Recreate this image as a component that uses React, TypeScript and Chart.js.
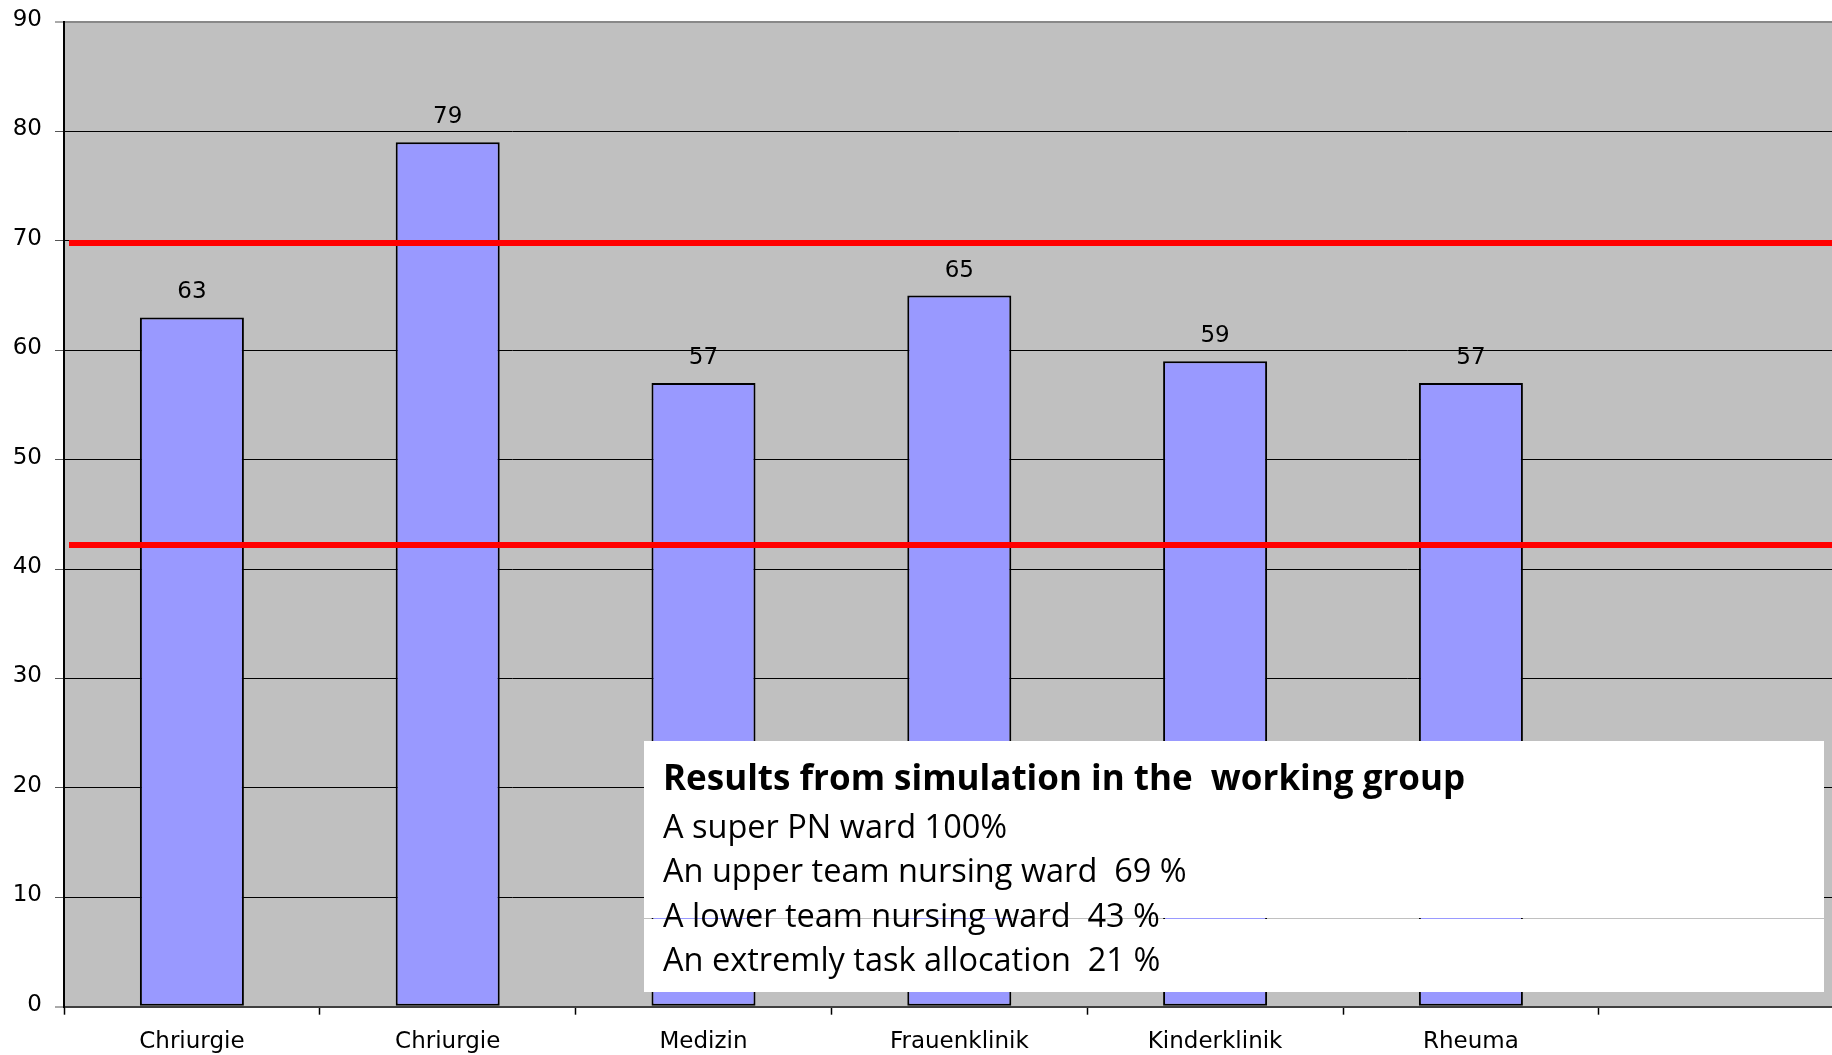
import React, { useEffect, useRef } from "react";
import { Chart, registerables } from "chart.js";

Chart.register(...registerables);

const categories = ["Chriurgie", "Chriurgie", "Medizin", "Frauenklinik", "Kinderklinik", "Rheuma", ""];
const values: (number | null)[] = [63, 79, 57, 65, 59, 57, null];
const referenceLines = [69.8, 42.2];
const yMin = 0;
const yMax = 90;
const yStep = 10;
const boxTitle = "Results from simulation in the  working group";
const boxLines = [
  "A super PN ward 100%",
  "An upper team nursing ward  69 %",
  "A lower team nursing ward  43 %",
  "An extremly task allocation  21 %",
];

const AXIS_FONT = "'DejaVu Sans', 'Liberation Sans', Arial, sans-serif";
const BOX_FONT = "'Open Sans', 'Noto Sans', sans-serif";

const CANVAS_W = 1880;
const CANVAS_H = 1055;

const backgroundPlugin = {
  id: "bgPlugin",
  beforeDraw(chart: any) {
    const { ctx, chartArea } = chart;
    ctx.save();
    ctx.fillStyle = "#ffffff";
    ctx.fillRect(0, 0, chart.width, chart.height);
    ctx.fillStyle = "#c0c0c0";
    ctx.fillRect(chartArea.left, chartArea.top, chartArea.right - chartArea.left, chartArea.bottom - chartArea.top);
    ctx.restore();
  },
};

const refLinePlugin = {
  id: "refLines",
  afterDatasetsDraw(chart: any) {
    const { ctx, chartArea, scales } = chart;
    ctx.save();
    ctx.strokeStyle = "#ff0000";
    ctx.lineWidth = 6;
    referenceLines.forEach((v) => {
      const y = scales.y.getPixelForValue(v);
      ctx.beginPath();
      ctx.moveTo(chartArea.left + 5, y);
      ctx.lineTo(chartArea.right, y);
      ctx.stroke();
    });
    ctx.restore();
  },
};

const dataLabelPlugin = {
  id: "dataLabels",
  afterDatasetsDraw(chart: any) {
    const { ctx } = chart;
    const meta = chart.getDatasetMeta(0);
    ctx.save();
    ctx.fillStyle = "#000";
    ctx.font = `23px ${AXIS_FONT}`;
    ctx.textAlign = "center";
    ctx.textBaseline = "alphabetic";
    meta.data.forEach((el: any, i: number) => {
      const v = values[i];
      if (v == null) return;
      ctx.fillText(String(v), el.x, el.y - 19);
    });
    ctx.restore();
  },
};

const boxPlugin = {
  id: "textBox",
  afterDraw(chart: any) {
    const { ctx } = chart;
    const left = 644;
    const right = 1824;
    const top = 741;
    const gap = 918;
    const bottom = 992;
    ctx.save();
    ctx.fillStyle = "#ffffff";
    ctx.fillRect(left, top, right - left, gap - top);
    ctx.fillRect(left, gap + 1, right - left, bottom - gap - 1);
    ctx.fillStyle = "#000";
    ctx.textAlign = "left";
    ctx.textBaseline = "alphabetic";
    ctx.font = `bold 35px ${BOX_FONT}`;
    ctx.fillText(boxTitle, 663, 790);
    ctx.font = `32.5px ${BOX_FONT}`;
    const baselines = [838, 882, 927, 971];
    boxLines.forEach((t, i) => ctx.fillText(t, 663, baselines[i]));
    ctx.restore();
  },
};

export default function App() {
  const ref = useRef<HTMLCanvasElement | null>(null);

  useEffect(() => {
    if (!ref.current) return;
    const chart = new Chart(ref.current, {
      type: "bar",
      data: {
        labels: categories,
        datasets: [
          {
            data: values as any,
            backgroundColor: "#9999ff",
            borderColor: "#000000",
            borderWidth: 2,
            borderSkipped: false,
            barPercentage: 0.4066,
            categoryPercentage: 1,
          },
        ],
      },
      options: {
        animation: false,
        responsive: false,
        devicePixelRatio: 1,
        layout: { padding: { left: 0, top: 22, right: CANVAS_W - 1854.6, bottom: 0 } },
        plugins: { legend: { display: false }, tooltip: { enabled: false } },
        scales: {
          x: {
            afterFit: (s: any) => {
              s.height = 48.3;
              s.paddingLeft = 0;
              s.paddingRight = 0;
            },
            grid: {
              offset: true,
              drawOnChartArea: false,
              tickLength: 8,
              tickColor: "#000",
              tickWidth: 1.5,
            },
            border: { display: true, color: "#404040", width: 2 },
            ticks: {
              font: { family: AXIS_FONT, size: 23 },
              color: "#000",
              padding: 14,
              maxRotation: 0,
              autoSkip: false,
            },
          },
          y: {
            min: yMin,
            max: yMax,
            afterFit: (s: any) => {
              s.width = 64;
              s.paddingTop = 0;
              s.paddingBottom = 0;
            },
            grid: {
              color: (c: any) => (c.tick && c.tick.value === yMax ? "#888888" : c.tick && c.tick.value === yMin ? "#404040" : "#000000"),
              lineWidth: (c: any) => (c.tick && (c.tick.value === yMax || c.tick.value === yMin) ? 2 : 1),
              tickLength: 9,
              tickColor: "#555",
              tickWidth: 1,
            },
            border: { display: true, color: "#000", width: 2 },
            ticks: {
              stepSize: yStep,
              font: { family: AXIS_FONT, size: 23 },
              color: "#000",
              padding: 13,
              labelOffset: -2,
            },
          },
        },
      },
      plugins: [backgroundPlugin, refLinePlugin, dataLabelPlugin, boxPlugin],
    });
    return () => chart.destroy();
  }, []);

  return (
    <div style={{ position: "fixed", left: 0, top: 0, width: 1832, height: 1055, overflow: "hidden", background: "#fff" }}>
      <canvas ref={ref} width={CANVAS_W} height={CANVAS_H} style={{ width: CANVAS_W, height: CANVAS_H, display: "block" }} />
    </div>
  );
}
